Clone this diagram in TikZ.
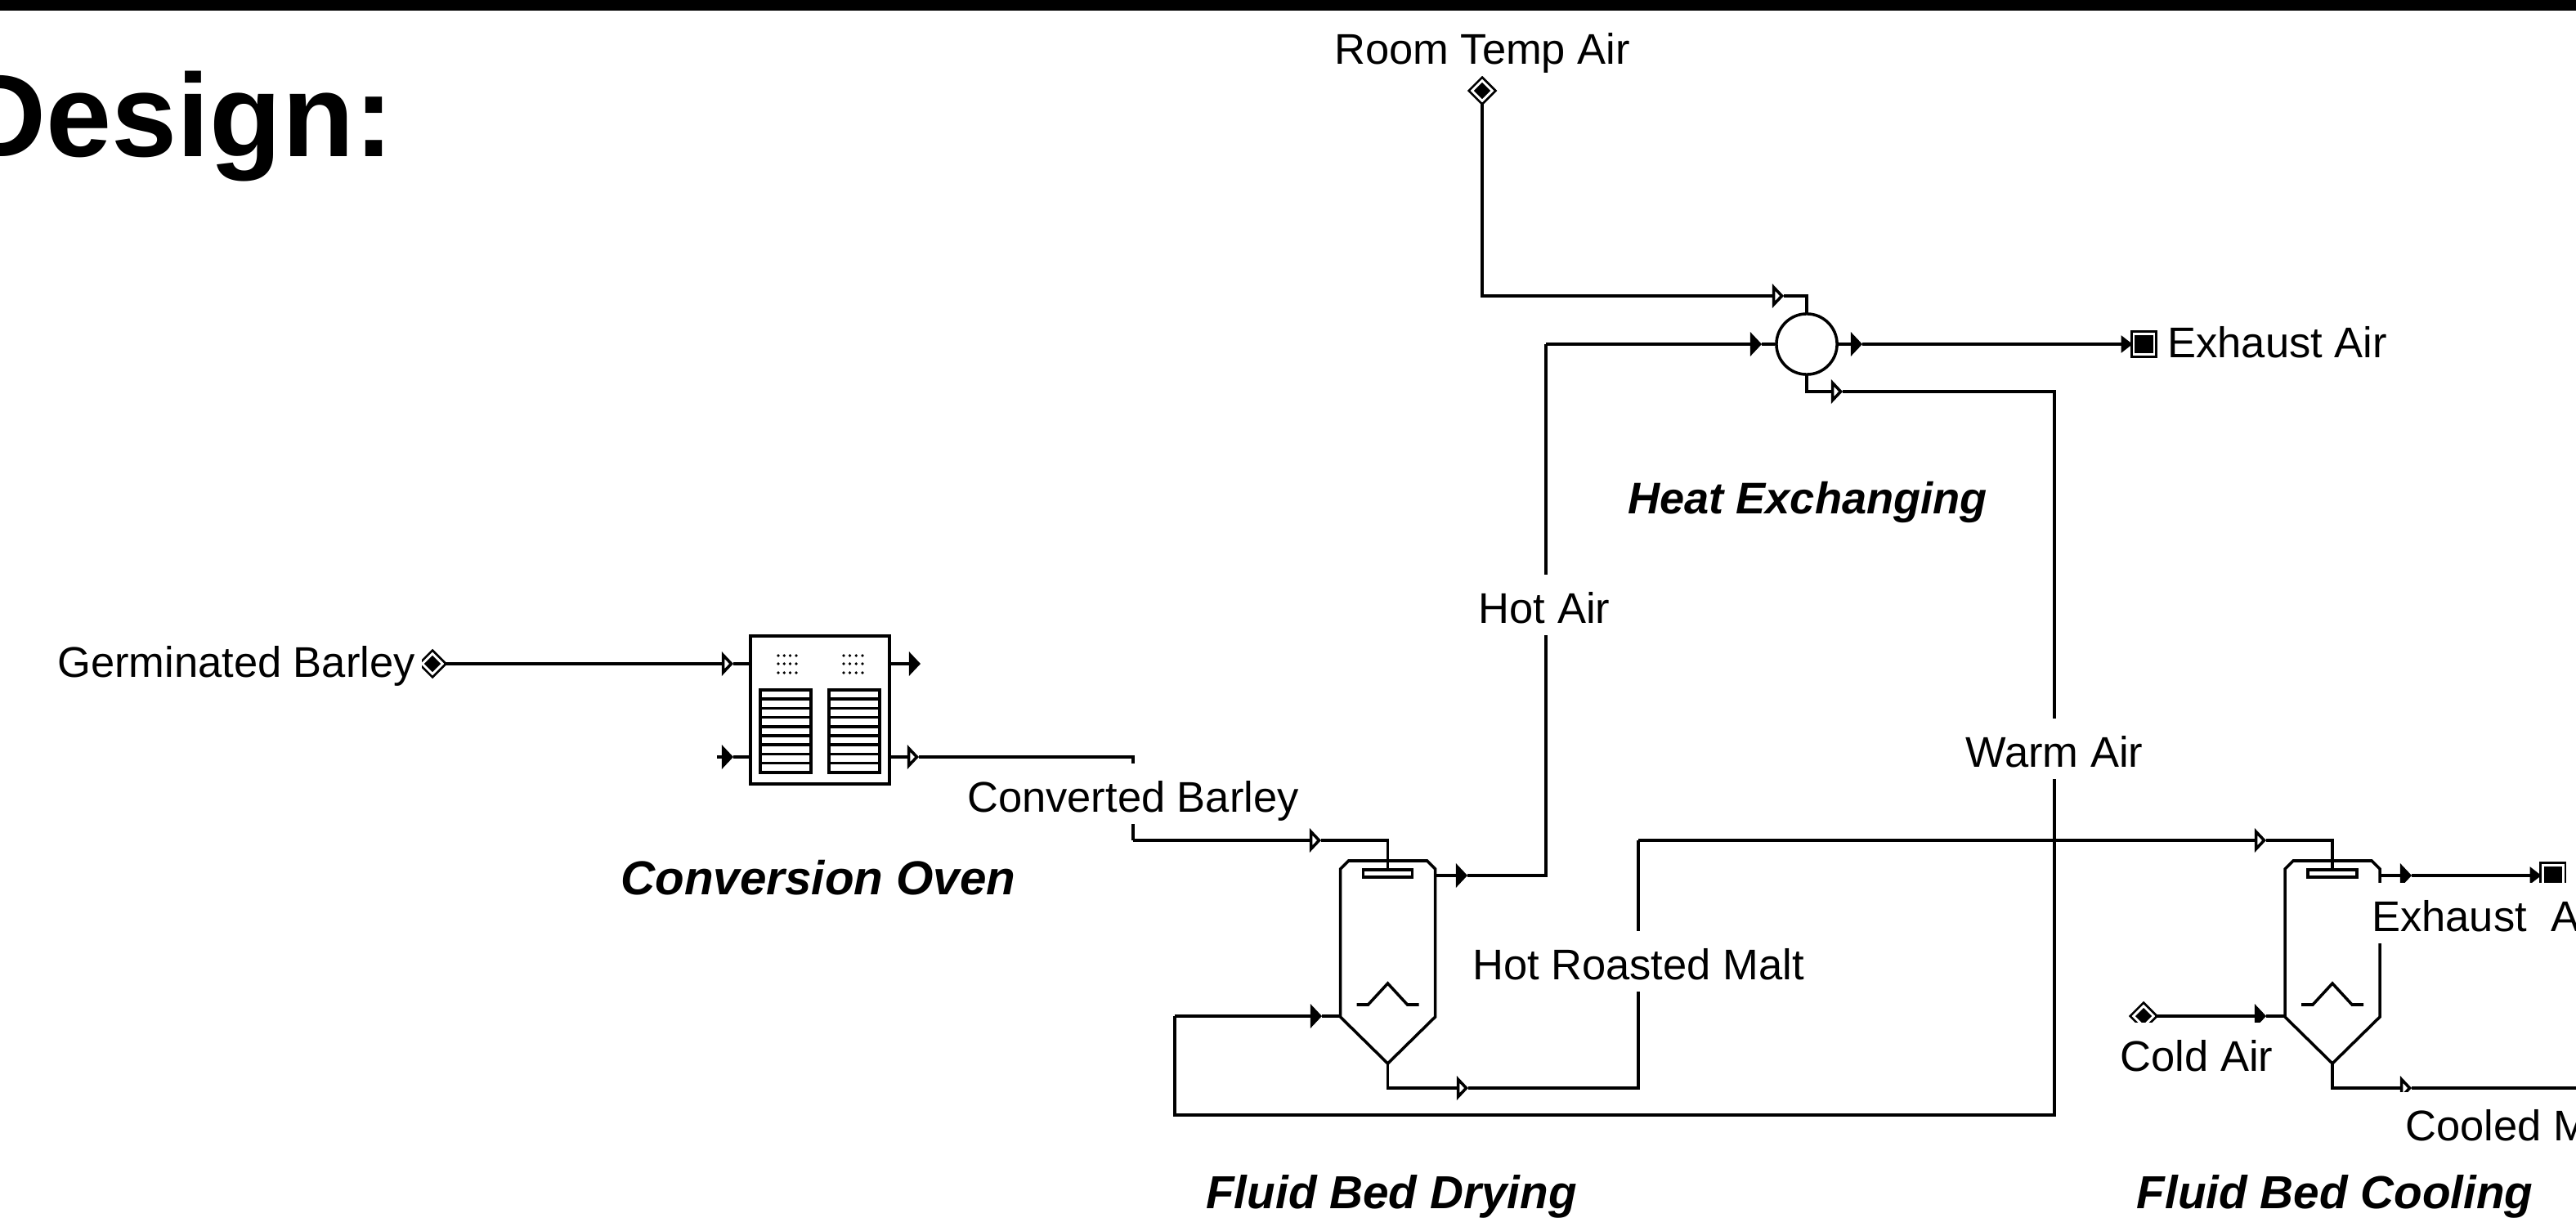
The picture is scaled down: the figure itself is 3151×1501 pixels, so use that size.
\documentclass[tikz,border=0pt]{standalone}
\usepackage{fontspec}
\setmainfont{Liberation Sans}
\usetikzlibrary{arrows.meta, positioning, shapes.geometric}

\begin{document}
\begin{tikzpicture}[
    x=0.24pt, y=-0.24pt,
    line/.style={line width=0.85pt, line join=miter},
    otip/.style={line, -{Triangle[open, fill=white, length=3.4pt, width=7pt]}},
    ftip/.style={line, -{Triangle[length=3.4pt, width=7pt]}},
    stip/.style={line, -{Triangle[length=3.4pt, width=5pt]}},
    source/.style={diamond, draw, double, double distance=0.7pt, line width=0.65pt, fill=black,
                   minimum size=6.2pt, inner sep=0pt},
    sink/.style={rectangle, draw, double, double distance=0.7pt, line width=0.65pt, fill=black,
                 minimum size=6pt, inner sep=0pt},
    lbl/.style={fill=white, inner ysep=0pt, inner xsep=2pt, text height=14.2pt, text depth=3.6pt,
                font=\fontsize{12.6}{15}\selectfont},
    unitname/.style={anchor=base, inner sep=0pt, font=\fontsize{#1}{17}\selectfont\bfseries\itshape},
    heading/.style={anchor=base east, inner sep=0pt, font=\fontsize{34.6}{40}\selectfont\bfseries},
    ovenbox/.style={draw, line, minimum width=40.8pt, minimum height=43.4pt, inner sep=0pt},
    traybox/.style={draw, line, minimum width=14.9pt, minimum height=24.2pt, inner sep=0pt},
    plate/.style={draw, line, minimum width=14.4pt, minimum height=2.2pt, inner sep=0pt},
    exchanger/.style={circle, draw, line, minimum size=17.8pt, inner sep=0pt}
  ]
  \useasboundingbox (0,0) rectangle (3151,1501);
  \fill[black] (0,0) rectangle (3151,13);

  % oven
  \node[ovenbox] (oven) at (1003,868.5) {};
  \node[traybox] (trayl) at (961,894.5) {};
  \node[traybox] (trayr) at (1045,894.5) {};
  \foreach \i in {1,...,8} {
    \draw[line] (930,844+\i*11.2) -- (992,844+\i*11.2);
    \draw[line] (1013,844+\i*11.2) -- (1077,844+\i*11.2);
  }
  \foreach \px in {952,959.3,966.6,974,1032,1039.6,1047.3,1055} {
    \foreach \py in {802,812,823} {
      \fill (\px,\py) circle (0.45pt);
    }
  }

  % vessels
  \foreach \name/\xc in {dry/1697.5, cool/2853} {
    \draw[line] (\xc-58,1063) -- (\xc-48,1053) -- (\xc+48,1053) -- (\xc+58,1063)
      -- (\xc+58,1244) -- (\xc,1301) -- (\xc-58,1244) -- cycle;
    \draw[line] (\xc-38,1229) -- (\xc-24,1229) -- (\xc,1203) -- (\xc+24,1229) -- (\xc+38,1229);
    \node[plate] (\name-plate) at (\xc,1068.5) {};
    \coordinate (\name-out) at (\xc+58,1071);
    \coordinate (\name-side) at (\xc-58,1243);
    \coordinate (\name-apex) at (\xc,1301);
  }
  \node[exchanger] (hx) at (2210,421) {};

  % boundary points
  \node[source] (barley) at (529,812) {};
  \node[source] (roomair) at (1813,111) {};
  \node[source] (coldair) at (2622,1243) {};
  \node[sink] (exhot) at (2622.5,421) {};
  \node[sink] (excool) at (3122.5,1071) {};

  \coordinate (t1) at (897,812);
  \coordinate (t2) at (1126,812);
  \coordinate (c1) at (877,926);
  \coordinate (t3) at (897,926);
  \coordinate (t4) at (1124,926);
  \coordinate (t5) at (1616,1028);
  \coordinate (t6) at (1795,1071);
  \coordinate (t7) at (2155,421);
  \coordinate (t8) at (1796,1331);
  \coordinate (t9) at (2772,1028);
  \coordinate (t10) at (2182,362);
  \coordinate (t11) at (2278,421);
  \coordinate (t12) at (2254,479);
  \coordinate (t13) at (1617,1243);
  \coordinate (t14) at (2772,1243);
  \coordinate (t15) at (2950,1071);
  \coordinate (t16) at (2950,1331);
  \coordinate (c2) at (3151,1331);

  \draw[otip] (barley) -- (t1);
  \draw[line] (t1) -- (oven.west |- t1);
  \draw[ftip] (oven.east |- t2) -- (t2);
  \draw[ftip] (c1) -- (t3);
  \draw[line] (t3) -- (oven.west |- t3);
  \draw[otip] (oven.east |- t4) -- (t4);
  \draw[line] (t4) -- (1386,926) -- (1386,1028);
  \draw[otip] (1386,1028) -- (t5);
  \draw[line] (t5) -| (dry-plate.north);

  \draw[ftip] (dry-out) -- (t6);
  \draw[line] (t6) -| (1891,421);
  \draw[ftip] (1891,421) -- (t7);
  \draw[line] (t7) -- (hx.west);

  \draw[otip] (dry-apex) |- (t8);
  \draw[line] (t8) -| (2004,1028);
  \draw[otip] (2004,1028) -- (t9);
  \draw[line] (t9) -| (cool-plate.north);

  \draw[otip] (roomair) |- (t10);
  \draw[line] (t10) -| (hx.north);
  \draw[ftip] (hx.east) -- (t11);
  \draw[stip] (t11) -- (exhot.west);

  \draw[otip] (hx.south) |- (t12);
  \draw[line] (t12) -| (2513,1364) -| (1437,1243);
  \draw[ftip] (1437,1243) -- (t13);
  \draw[line] (t13) -- (dry-side);

  \draw[ftip] (coldair) -- (t14);
  \draw[line] (t14) -- (cool-side);
  \draw[ftip] (cool-out) -- (t15);
  \draw[stip] (t15) -- (excool.west);
  \draw[otip] (cool-apex) |- (t16);
  \draw[line] (t16) -- (c2);

  \node[lbl] (roomlbl) at (1813,56) {Room Temp Air};
  \node[lbl, right=1.4pt of exhot, yshift=1.4pt] (exhotlbl) {Exhaust Air};
  \node[lbl, anchor=east] (barleylbl) at (517,806) {Germinated Barley};
  \node[lbl] (convlbl) at (1386,971) {Converted Barley};
  \node[lbl] (hotlbl) at (1889,740) {Hot Air};
  \node[lbl] (warmlbl) at (2513,916) {Warm Air};
  \node[lbl] (roastlbl) at (2004,1176) {Hot Roasted Malt};
  \node[lbl, anchor=west] (exlbl) at (2892,1117) {Exhaust\ \ Air};
  \node[lbl] (coldlbl) at (2687,1288) {Cold Air};
  \node[lbl, anchor=west] (malt) at (2933,1373) {Cooled Malt};

  \node[unitname=13] (hxname) at (2211,628) {Heat Exchanging};
  \node[unitname=14] (ovenname) at (1001,1094) {Conversion Oven};
  \node[unitname=13.6] (dryname) at (1702,1478) {Fluid Bed Drying};
  \node[unitname=13.6] (coolname) at (2856,1478) {Fluid Bed Cooling};
  \node[heading] (title) at (482,192) {Design:};
\end{tikzpicture}
\end{document}
